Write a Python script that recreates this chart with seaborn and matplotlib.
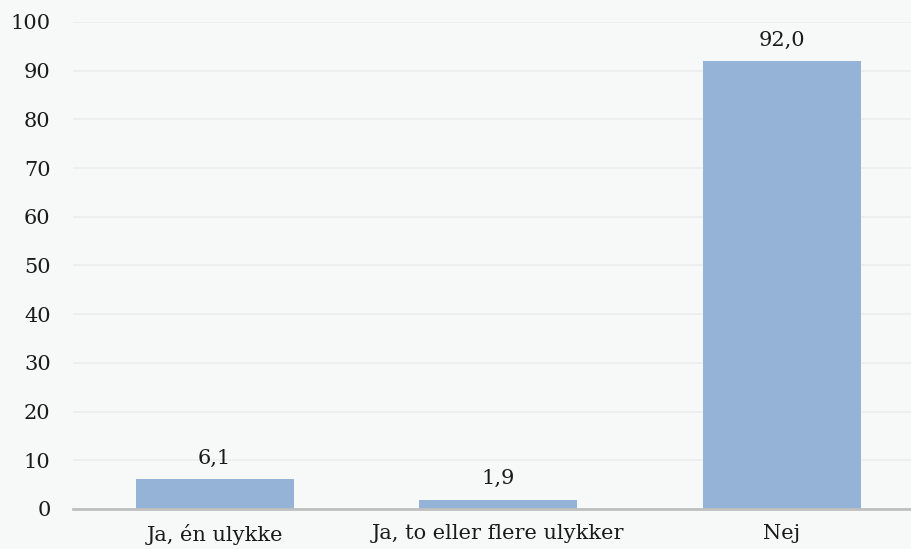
import pandas as pd
import seaborn as sb
import matplotlib.pyplot as plt

# data
categories = ['Ja, én ulykke', 'Ja, to eller flere ulykker', 'Nej']
values = [6.1, 1.9, 92.0]
labels = ['6,1', '1,9', '92,0']

df = pd.DataFrame({'cat': categories, 'val': values})

sb.set_style('white')
plt.rcParams['font.family'] = ['DejaVu Serif']
bg = '#f7f9f9'

fig = plt.figure(figsize=(9.11, 5.49), dpi=100, facecolor=bg)
ax = fig.add_axes([0.08, 0.073, 0.92, 0.887], facecolor=bg)

sb.barplot(data=df, x='cat', y='val', color='#95b3d7', width=0.557,
           saturation=1, linewidth=0, ax=ax)

# value labels above bars
for i, t in enumerate(labels):
    ax.annotate(t, (i, values[i]), xytext=(0, 11), textcoords='offset points',
                ha='center', va='baseline', fontsize=15, color='#1a1a1a')

ax.set_ylim(0, 100)
ax.set_xlim(-0.5, 2.455)
ax.set_yticks(range(0, 101, 10))
ax.yaxis.grid(True, color='#ececec', linewidth=1.2)
ax.set_axisbelow(True)
for s in ['top', 'right', 'left']:
    ax.spines[s].set_visible(False)
ax.spines['bottom'].set_color('#bfbfbf')
ax.spines['bottom'].set_linewidth(2)
ax.tick_params(axis='both', length=0, labelsize=15, colors='#1a1a1a')
ax.tick_params(axis='y', pad=16)
ax.tick_params(axis='x', pad=11)
ax.set_xlabel('')
ax.set_ylabel('')

fig.savefig('out.png', dpi=100, facecolor=bg)
